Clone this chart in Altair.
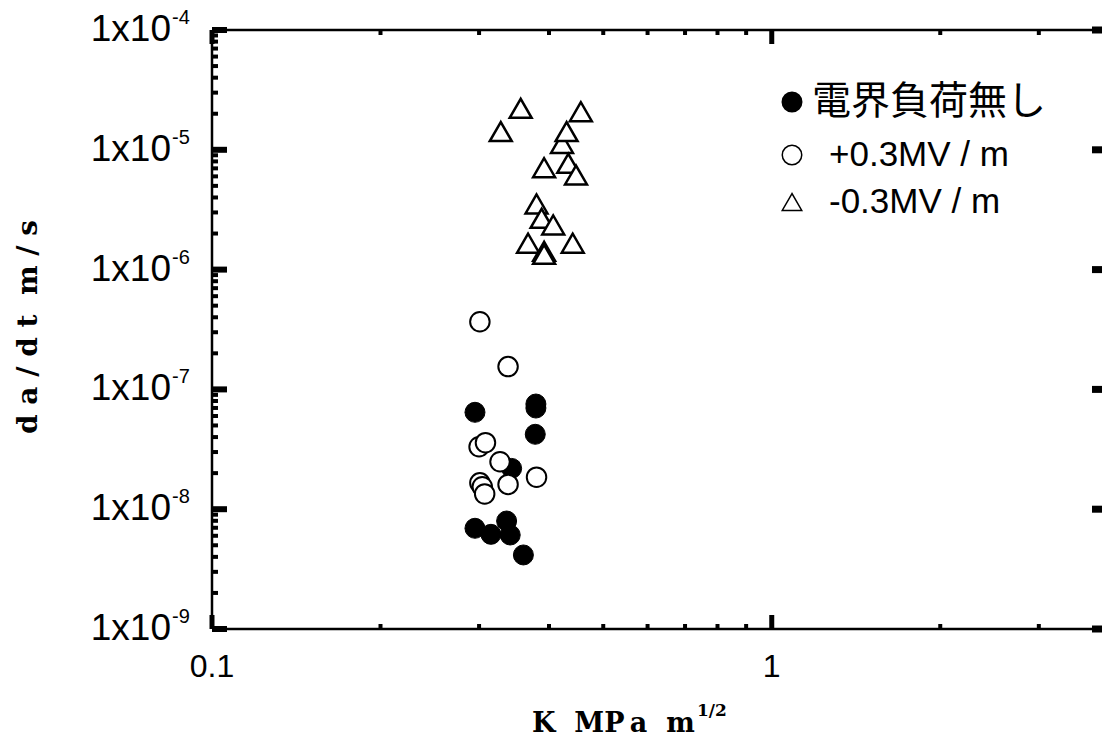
import altair as alt
import pandas as pd

# ---- data ----
none_K = [0.295, 0.379, 0.379, 0.378, 0.343, 0.295, 0.315, 0.336, 0.341, 0.360]
none_v = [6.44e-8, 7.55e-8, 6.99e-8, 4.22e-8, 2.19e-8, 6.93e-9, 6.17e-9, 7.97e-9, 6.09e-9, 4.15e-9]

pos_K = [0.301, 0.338, 0.300, 0.308, 0.327, 0.301, 0.304, 0.307, 0.338, 0.380]
pos_v = [3.67e-7, 1.55e-7, 3.32e-8, 3.59e-8, 2.49e-8, 1.66e-8, 1.54e-8, 1.34e-8, 1.61e-8, 1.85e-8]

neg_K = [0.356, 0.456, 0.328, 0.422, 0.430, 0.392, 0.433, 0.447, 0.380, 0.388, 0.407, 0.367, 0.441, 0.392, 0.392]
neg_v = [2.22e-5, 2.08e-5, 1.42e-5, 1.13e-5, 1.42e-5, 7.09e-6, 7.71e-6, 6.16e-6, 3.53e-6, 2.68e-6, 2.36e-6, 1.66e-6, 1.66e-6, 1.42e-6, 1.34e-6]

NB = "\u00a0"
legend_labels = ["電界負荷無し", "+0.3MV" + NB + "/" + NB + "m", "-0.3MV" + NB + "/" + NB + "m"]

x_major = [0.1, 1.0]
x_major_labels = ["0.1", "1"]
x_minor = [0.2, 0.3, 0.4, 0.5, 0.6, 0.7, 0.8, 0.9, 2.0, 3.0]
y_major = [1e-9, 1e-8, 1e-7, 1e-6, 1e-5, 1e-4]
y_major_base = ["1x10"] * 6
y_major_sup = ["-9", "-8", "-7", "-6", "-5", "-4"]
y_minor = [k * 10.0 ** e for e in range(-9, -4) for k in range(2, 10)]

x_title = "K" + NB * 2 + "MP\u2009a" + NB * 2 + "m"
x_title_sup = "1/2"
y_title = NB.join(["d", "a", "/", "d", "t"]) + NB * 2 + NB.join(["m", "/", "s"])

# ---- layout ----
W, H = 883, 599
xs = alt.Scale(type="log", domain=[0.1, 3.78], nice=False)
ys = alt.Scale(type="log", domain=[1e-9, 1e-4], nice=False)
one = pd.DataFrame({"a": [0]})


def pts(K, v, **mark):
    df = pd.DataFrame({"K": K, "v": v})
    return alt.Chart(df).mark_point(opacity=1, **mark).encode(
        x=alt.X("K:Q", scale=xs, axis=None),
        y=alt.Y("v:Q", scale=ys, axis=None),
    )


def xticks(vals, y1, y2, sw):
    return alt.Chart(pd.DataFrame({"t": vals})).mark_rule(color="black", strokeWidth=sw).encode(
        x=alt.X("t:Q", scale=xs, axis=None), y=alt.value(y1), y2=alt.value(y2))


def yticks(vals, x1, x2, sw):
    return alt.Chart(pd.DataFrame({"t": vals})).mark_rule(color="black", strokeWidth=sw).encode(
        y=alt.Y("t:Q", scale=ys, axis=None), x=alt.value(x1), x2=alt.value(x2))


layers = []
# axis lines (left, bottom, top)
layers.append(alt.Chart(one).mark_rule(color="black", strokeWidth=2.5).encode(
    x=alt.value(0), y=alt.value(0), y2=alt.value(H)))
layers.append(alt.Chart(one).mark_rule(color="black", strokeWidth=2.5).encode(
    x=alt.value(0), x2=alt.value(W), y=alt.value(H)))
layers.append(alt.Chart(one).mark_rule(color="black", strokeWidth=2.5).encode(
    x=alt.value(0), x2=alt.value(W), y=alt.value(0)))

# ticks (inward)
layers.append(xticks(x_major, H, H - 14, 5))
layers.append(xticks(x_minor, H, H - 5, 4))
layers.append(xticks(x_major, 0, 14, 5))
layers.append(xticks(x_minor, 0, 5, 4))
layers.append(yticks(y_major, 0, 15, 6))
layers.append(yticks(y_minor, 0, 6, 4))
layers.append(yticks(y_major, W - 3, W + 7, 7))

# tick labels
layers.append(alt.Chart(pd.DataFrame({"t": x_major, "s": x_major_labels})).mark_text(
    font="Liberation Sans", fontSize=32, align="center", baseline="middle", color="black").encode(
    x=alt.X("t:Q", scale=xs, axis=None), y=alt.value(H + 38), text="s:N"))
ylab = pd.DataFrame({"t": y_major, "b": y_major_base, "s": y_major_sup})
layers.append(alt.Chart(ylab).mark_text(
    font="Liberation Sans", fontSize=37, align="right", baseline="middle", color="black").encode(
    y=alt.Y("t:Q", scale=ys, axis=None), x=alt.value(-41), text="b:N"))
layers.append(alt.Chart(ylab).mark_text(
    font="Liberation Sans", fontSize=20, align="left", baseline="middle", color="black", dy=-12).encode(
    y=alt.Y("t:Q", scale=ys, axis=None), x=alt.value(-40), text="s:N"))

# axis titles
layers.append(alt.Chart(pd.DataFrame({"s": [x_title]})).mark_text(
    font="DejaVu Serif", fontWeight="bold", fontSize=27, align="left", baseline="alphabetic",
    color="black").encode(x=alt.value(320), y=alt.value(702), text="s:N"))
layers.append(alt.Chart(pd.DataFrame({"s": [x_title_sup]})).mark_text(
    font="DejaVu Serif", fontWeight="bold", fontSize=17, align="left", baseline="alphabetic",
    color="black").encode(x=alt.value(485), y=alt.value(686), text="s:N"))
layers.append(alt.Chart(pd.DataFrame({"s": [y_title]})).mark_text(
    font="DejaVu Serif", fontWeight="bold", fontSize=28, align="center", baseline="middle",
    angle=270, color="black").encode(x=alt.value(-183), y=alt.value(297), text="s:N"))

# data points
layers.append(pts(none_K, none_v, shape="circle", filled=True, fill="black", stroke="black",
                  strokeWidth=1, size=400))
layers.append(pts(pos_K, pos_v, shape="circle", filled=True, fill="white", stroke="black",
                  strokeWidth=2, size=380))
layers.append(pts(neg_K, neg_v, shape="triangle-up", filled=True, fill="white", stroke="black",
                  strokeWidth=2.5, size=480))

# legend (manual)
leg_sym = [("circle", "black"), ("circle", "white"), ("triangle-up", "white")]
leg_y = [72, 125, 172]
leg_tx = [600, 617, 617]
for (shape, fill), yy, lab, tx in zip(leg_sym, leg_y, legend_labels, leg_tx):
    layers.append(alt.Chart(one).mark_point(shape=shape, filled=True, fill=fill, stroke="black",
                                            strokeWidth=1.5, size=380, opacity=1).encode(
        x=alt.value(580), y=alt.value(yy)))
    is_cjk = lab == legend_labels[0]
    layers.append(alt.Chart(pd.DataFrame({"s": [lab]})).mark_text(
        font="Noto Sans CJK JP" if is_cjk else "Liberation Sans",
        fontSize=39 if is_cjk else 35, align="left", baseline="middle", color="black").encode(
        x=alt.value(tx), y=alt.value(yy), text="s:N"))

chart = alt.layer(*layers).properties(
    width=W, height=H, autosize="none",
    padding={"left": 212, "top": 30, "right": 1102 - 212 - W, "bottom": 745 - 30 - H},
    background="white",
).configure_view(stroke=None)

chart.save("out.html", embed_options={"renderer": "svg", "actions": False})
